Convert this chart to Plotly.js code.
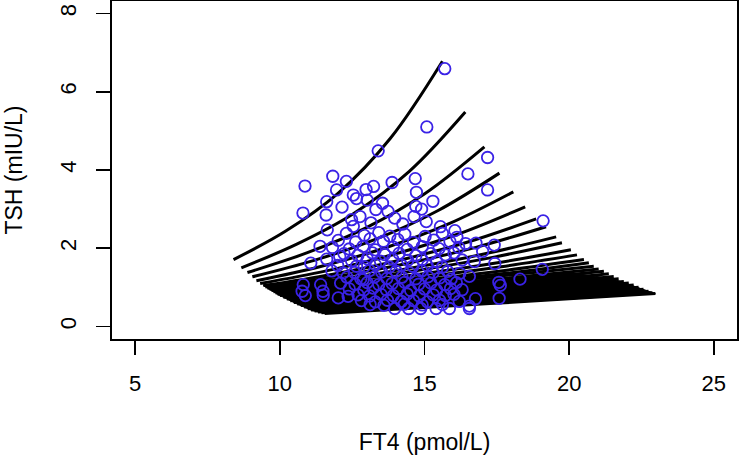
<!DOCTYPE html>
<html>
<head>
<meta charset="utf-8">
<script src="https://cdn.plot.ly/plotly-3.0.1.min.js"></script>
<style>html,body{margin:0;padding:0;background:#fff;}#chart{width:740px;height:455px;}</style>
</head>
<body>
<div id="chart"></div>
<script>
// Upper, clearly separated model curves (FT4 vs TSH)
const upperCurvesX = [
  [8.40, 10.205, 12.01, 13.815, 15.62],
  [8.67, 10.605, 12.54, 14.475, 16.41],
  [8.88, 10.93, 12.975, 15.02, 17.07],
  [9.05, 11.185, 13.32, 15.455, 17.59],
  [9.19, 11.41, 13.63, 15.85, 18.07],
  [9.32, 11.61, 13.90, 16.19, 18.48],
  [9.43, 11.79, 14.145, 16.50, 18.86],
  [9.50, 11.925, 14.35, 16.775, 19.20],
  [9.57, 12.065, 14.56, 17.055, 19.55],
  [9.64, 12.17, 14.695, 17.22, 19.75],
  [9.71, 12.30, 14.885, 17.47, 20.06],
  [9.78, 12.40, 15.025, 17.65, 20.27],
  [9.85, 12.515, 15.18, 17.845, 20.51],
  [9.92, 12.61, 15.30, 17.99, 20.68]
];
const upperCurvesY = [
  [1.71, 2.44, 3.405, 4.804, 6.78],
  [1.50, 2.11, 2.88, 3.963, 5.48],
  [1.38, 1.88, 2.52, 3.399, 4.59],
  [1.27, 1.69, 2.231, 2.958, 3.92],
  [1.17, 1.535, 2.006, 2.627, 3.44],
  [1.10, 1.421, 1.835, 2.370, 3.06],
  [1.045, 1.331, 1.695, 2.159, 2.75],
  [1.01, 1.273, 1.605, 2.023, 2.55],
  [0.98, 1.212, 1.498, 1.852, 2.29],
  [0.95, 1.164, 1.426, 1.747, 2.14],
  [0.92, 1.111, 1.343, 1.622, 1.96],
  [0.885, 1.061, 1.273, 1.526, 1.83],
  [0.855, 1.017, 1.209, 1.438, 1.71],
  [0.825, 0.978, 1.160, 1.375, 1.63]
];
// Densely packed lower curves (start, middle, end)
const denseCurvesX = [
  [10.00, 15.425, 20.85],
  [10.12, 15.57, 21.02],
  [10.24, 15.72, 21.20],
  [10.36, 15.865, 21.37],
  [10.48, 16.01, 21.54],
  [10.60, 16.155, 21.71],
  [10.72, 16.305, 21.89],
  [10.84, 16.45, 22.06],
  [10.96, 16.595, 22.23],
  [11.08, 16.74, 22.40],
  [11.20, 16.885, 22.57],
  [11.32, 17.03, 22.74],
  [11.44, 17.16, 22.88],
  [11.55, 17.265, 22.98]
];
const denseCurvesY = [
  [0.79, 1.134, 1.54],
  [0.75, 1.08, 1.47],
  [0.70, 1.024, 1.41],
  [0.66, 0.974, 1.35],
  [0.615, 0.917, 1.28],
  [0.575, 0.868, 1.22],
  [0.535, 0.813, 1.15],
  [0.495, 0.772, 1.11],
  [0.455, 0.726, 1.06],
  [0.42, 0.679, 1.00],
  [0.395, 0.643, 0.95],
  [0.37, 0.610, 0.90],
  [0.35, 0.598, 0.86],
  [0.33, 0.585, 0.84]
];
// Outline of the solid black band where the lower curves overlap
const solidX = [9.43, 9.94, 10.52, 11.09, 11.55, 13.11, 16.55, 20.00, 22.98, 21.50, 20.00, 17.50, 15.40, 13.00, 11.20, 10.20, 9.43];
const solidY = [1.045, 0.815, 0.60, 0.415, 0.33, 0.41, 0.565, 0.70, 0.84, 1.22, 1.38, 1.22, 1.10, 0.97, 0.93, 0.96, 1.045];

// Observed patients
const ft4 = [
  15.70,15.08,13.40,17.18,16.50,11.83,14.68,12.30,13.88,10.87,13.24,12.98,17.18,11.96,14.72,12.54,12.65,13.02,15.29,11.62,
  13.32,14.90,14.70,13.74,10.80,11.60,12.77,14.64,13.97,12.48,19.10,15.06,12.54,11.64,12.15,13.55,14.25,15.55,13.15,16.05,
  17.41,16.78,17.01,16.72,17.43,19.07,18.30,17.57,16.55,17.58,16.76,16.55,17.62,
  13.97,14.45,14.87,15.40,15.86,16.55,
  10.81,10.77,10.88,11.41,11.49,11.50,12.02,12.36,11.07,11.39,12.07,12.19,12.65,12.88,
  12.30,12.92,13.42,13.80,14.32,15.02,15.62,16.12,
  12.02,12.62,13.12,13.58,14.08,14.62,15.32,15.88,16.42,
  11.82,12.40,12.88,13.30,13.92,14.40,14.92,15.50,16.18,
  12.22,12.70,13.20,13.62,14.12,14.70,15.22,15.72,16.02,
  11.62,12.48,13.02,13.48,13.90,14.42,14.92,15.42,16.30,
  12.00,12.92,13.30,13.78,14.20,14.60,15.10,15.62,
  11.80,12.58,13.10,13.52,14.02,14.48,14.90,15.30,15.80,16.22,
  12.32,12.80,13.28,13.70,14.22,14.70,15.12,15.52,15.92,
  12.10,12.60,13.02,13.42,13.88,14.32,14.80,15.22,15.70,16.10,
  12.40,12.90,13.22,13.68,14.10,14.52,15.00,15.42,15.90,16.30,
  12.70,13.10,13.50,13.92,14.40,14.82,15.30,15.72,16.02,
  12.82,13.30,13.72,14.20,14.62,15.10,15.52,16.20,
  13.12,13.60,14.30,14.92,15.62
];
const tsh = [
  6.59,5.10,4.49,4.32,3.90,3.84,3.78,3.71,3.68,3.59,3.58,3.50,3.49,3.49,3.43,3.36,3.27,3.23,3.20,3.19,
  2.99,3.00,3.07,2.94,2.90,2.85,2.81,2.81,2.77,2.73,2.70,2.68,2.56,2.47,3.05,3.15,2.62,2.55,2.65,2.45,
  2.08,2.13,1.92,1.66,1.61,1.46,1.21,1.13,1.28,0.72,0.71,0.52,1.05,
  0.46,0.46,0.46,0.46,0.46,0.46,
  1.07,0.90,0.79,1.07,0.90,0.80,0.73,0.77,1.62,2.05,1.79,1.37,1.54,1.20,
  2.38,2.33,2.40,2.31,2.36,2.30,2.38,2.28,
  2.20,2.16,2.24,2.18,2.22,2.15,2.21,2.17,2.12,
  2.02,1.98,2.05,1.96,2.03,1.97,2.04,1.99,2.02,
  1.86,1.82,1.88,1.84,1.87,1.81,1.86,1.83,1.88,
  1.72,1.68,1.73,1.67,1.72,1.69,1.71,1.66,1.70,
  1.56,1.53,1.58,1.52,1.57,1.54,1.55,1.52,
  1.42,1.38,1.43,1.39,1.41,1.37,1.42,1.38,1.41,1.36,
  1.26,1.22,1.27,1.23,1.26,1.22,1.27,1.24,1.21,
  1.11,1.08,1.12,1.07,1.10,1.13,1.08,1.11,1.07,1.12,
  0.96,0.93,0.98,0.94,0.97,0.92,0.96,0.93,0.97,0.94,
  0.81,0.78,0.82,0.79,0.83,0.78,0.81,0.79,0.82,
  0.66,0.63,0.67,0.64,0.66,0.63,0.67,0.64,
  0.56,0.54,0.57,0.55,0.56
];
const xTicks = [5, 10, 15, 20, 25];
const yTicks = [0, 2, 4, 6, 8];

const traces = [];
traces.push({x: solidX, y: solidY, type: 'scatter', mode: 'lines', fill: 'toself',
  fillcolor: '#000', line: {color: '#000', width: 1}, hoverinfo: 'skip', showlegend: false});
const lineStyle = {color: '#000000', width: 3, shape: 'spline'};
denseCurvesX.forEach((xs, i) => {
  traces.push({x: xs, y: denseCurvesY[i], type: 'scatter', mode: 'lines', line: lineStyle, hoverinfo: 'skip', showlegend: false});
});
upperCurvesX.forEach((xs, i) => {
  traces.push({x: xs, y: upperCurvesY[i], type: 'scatter', mode: 'lines', line: lineStyle, hoverinfo: 'skip', showlegend: false});
});
traces.push({
  x: ft4, y: tsh, type: 'scatter', mode: 'markers', showlegend: false,
  marker: {symbol: 'circle-open', size: 11.5, color: '#3a22e6', line: {width: 1.8, color: '#3a22e6'}}
});

const tickFont = {family: 'Liberation Sans, Arial, Helvetica, sans-serif', size: 22, color: '#000'};
const titleFont = {family: 'Liberation Sans, Arial, Helvetica, sans-serif', size: 23, color: '#000'};
const layout = {
  width: 740, height: 455,
  margin: {l: 112, r: 3, t: 1, b: 116},
  paper_bgcolor: '#fff', plot_bgcolor: '#fff',
  font: tickFont,
  showlegend: false,
  xaxis: {
    range: [4.2, 25.8], tickvals: xTicks, ticktext: xTicks.map(String),
    ticks: 'outside', ticklen: 14, tickwidth: 1.6, tickcolor: '#000',
    showline: true, mirror: true, linecolor: '#000', linewidth: 1.6,
    showgrid: false, zeroline: false, tickfont: tickFont,
    ticklabelstandoff: 10,
    title: {text: 'FT4 (pmol/L)', font: titleFont, standoff: 39}
  },
  yaxis: {
    range: [-0.32, 8.32], tickvals: yTicks, ticktext: yTicks.map(String),
    ticks: 'outside', ticklen: 14, tickwidth: 1.6, tickcolor: '#000',
    showline: true, mirror: true, linecolor: '#000', linewidth: 1.6,
    showgrid: false, zeroline: false, tickfont: tickFont, tickangle: -90,
    ticklabelstandoff: 12,
    title: {text: 'TSH (mIU/L)', font: titleFont, standoff: 26}
  }
};
Plotly.newPlot('chart', traces, layout, {staticPlot: true, displayModeBar: false});
</script>
</body>
</html>
